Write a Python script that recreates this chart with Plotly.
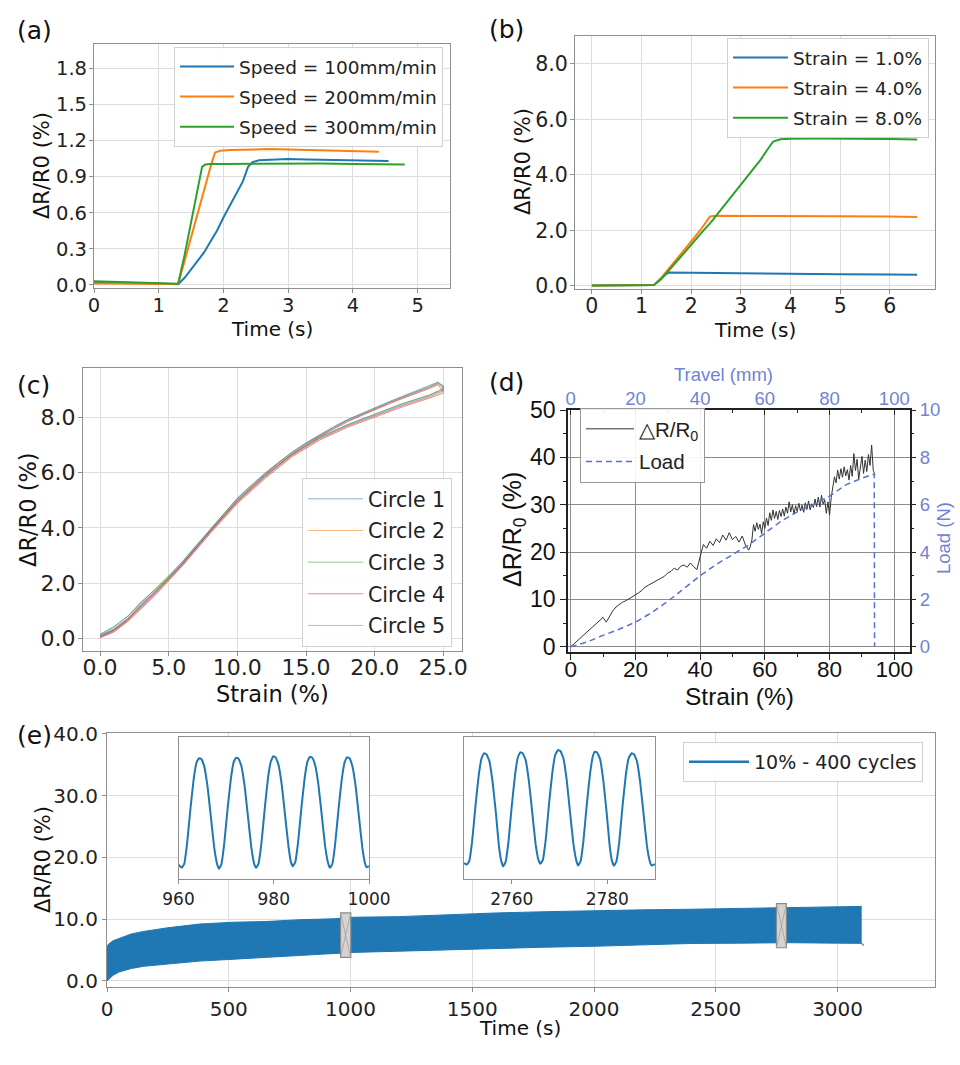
import plotly.graph_objects as go

W, H = 960, 1065

# ---------------- DATA ----------------
# (a) speed test
a_t_100 = [0, 0.2, 0.4, 0.6, 0.8, 1.0, 1.2, 1.3, 1.4, 1.5, 1.6, 1.7, 1.8, 1.9, 2.0, 2.1, 2.2, 2.3, 2.38, 2.45, 2.55, 2.7, 3.0, 3.3, 3.6, 3.9, 4.2, 4.55]
a_v_100 = [0.025, 0.022, 0.018, 0.016, 0.012, 0.008, 0.005, 0.006, 0.06, 0.13, 0.21, 0.27, 0.36, 0.45, 0.56, 0.66, 0.76, 0.86, 0.98, 1.02, 1.035, 1.04, 1.045, 1.042, 1.04, 1.038, 1.035, 1.03]
a_t_200 = [0, 0.3, 0.6, 0.9, 1.2, 1.3, 1.4, 1.5, 1.6, 1.7, 1.8, 1.87, 1.95, 2.1, 2.4, 2.7, 3.0, 3.4, 3.8, 4.1, 4.4]
a_v_200 = [0.012, 0.01, 0.009, 0.008, 0.006, 0.008, 0.2, 0.4, 0.6, 0.8, 0.98, 1.1, 1.115, 1.12, 1.125, 1.128, 1.125, 1.12, 1.115, 1.11, 1.105]
a_t_300 = [0, 0.3, 0.6, 0.9, 1.2, 1.3, 1.4, 1.5, 1.6, 1.67, 1.72, 1.8, 2.0, 2.5, 3.0, 3.5, 4.0, 4.5, 4.8]
a_v_300 = [0.03, 0.025, 0.02, 0.015, 0.008, 0.01, 0.25, 0.52, 0.8, 0.98, 1.0, 1.005, 1.005, 1.008, 1.01, 1.008, 1.005, 1.003, 1.0]
a_names = ["Speed = 100mm/min", "Speed = 200mm/min", "Speed = 300mm/min"]

# (b) strain levels
b_t_1 = [0, 0.5, 1.0, 1.25, 1.35, 1.45, 1.55, 2.0, 3.0, 4.0, 5.0, 6.0, 6.55]
b_v_1 = [0.02, 0.02, 0.02, 0.03, 0.2, 0.38, 0.48, 0.47, 0.45, 0.43, 0.42, 0.41, 0.40]
b_t_4 = [0, 0.5, 1.0, 1.25, 1.4, 1.6, 1.8, 2.0, 2.2, 2.38, 2.5, 3.0, 4.0, 5.0, 6.0, 6.55]
b_v_4 = [0.02, 0.02, 0.02, 0.03, 0.3, 0.72, 1.15, 1.6, 2.05, 2.5, 2.53, 2.53, 2.52, 2.51, 2.5, 2.48]
b_t_8 = [0, 0.5, 1.0, 1.25, 1.4, 1.6, 1.8, 2.0, 2.2, 2.4, 2.6, 2.8, 3.0, 3.2, 3.4, 3.55, 3.65, 3.8, 4.0, 4.5, 5.0, 5.5, 6.0, 6.55]
b_v_8 = [0.02, 0.02, 0.02, 0.03, 0.25, 0.65, 1.05, 1.48, 1.9, 2.3, 2.75, 3.2, 3.65, 4.1, 4.55, 4.95, 5.2, 5.28, 5.3, 5.31, 5.31, 5.3, 5.29, 5.27]
b_names = ["Strain = 1.0%", "Strain = 4.0%", "Strain = 8.0%"]

# (c) five loading/unloading circles
c_strain_up = [0, 1, 2, 3, 4, 5, 6, 7, 8, 9, 10, 11, 12, 13, 14, 15, 16, 17, 18, 19, 20, 21, 22, 23, 24, 24.6, 25]
c_strain_dn = [25, 24, 22, 20, 18, 16, 14, 12, 10, 8, 6, 4, 2, 1, 0]
c1_up = [0.15, 0.42, 0.80, 1.30, 1.78, 2.25, 2.78, 3.36, 3.95, 4.50, 5.08, 5.55, 5.98, 6.38, 6.75, 7.08, 7.38, 7.66, 7.92, 8.14, 8.36, 8.56, 8.76, 8.95, 9.14, 9.28, 9.12]
c1_dn = [9.02, 8.80, 8.48, 8.10, 7.72, 7.28, 6.68, 5.88, 4.98, 3.88, 2.72, 1.66, 0.70, 0.32, 0.10]
c2_up = [0.05, 0.30, 0.70, 1.22, 1.70, 2.18, 2.70, 3.30, 3.90, 4.46, 5.02, 5.48, 5.92, 6.34, 6.70, 7.03, 7.33, 7.60, 7.86, 8.08, 8.30, 8.50, 8.70, 8.88, 9.08, 9.22, 9.05]
c2_dn = [8.95, 8.74, 8.42, 8.05, 7.68, 7.22, 6.62, 5.82, 4.92, 3.82, 2.65, 1.58, 0.62, 0.25, 0.04]
c3_up = [0.12, 0.40, 0.78, 1.33, 1.75, 2.24, 2.76, 3.35, 3.94, 4.50, 5.06, 5.52, 5.96, 6.37, 6.74, 7.07, 7.37, 7.64, 7.90, 8.12, 8.34, 8.54, 8.74, 8.92, 9.12, 9.26, 9.15]
c3_dn = [9.05, 8.82, 8.50, 8.12, 7.74, 7.27, 6.66, 5.86, 4.96, 3.86, 2.70, 1.64, 0.67, 0.30, 0.08]
c4_up = [0.02, 0.28, 0.66, 1.20, 1.66, 2.15, 2.68, 3.28, 3.86, 4.42, 4.98, 5.45, 5.90, 6.30, 6.66, 7.00, 7.30, 7.57, 7.84, 8.06, 8.28, 8.48, 8.68, 8.86, 9.05, 9.18, 8.95]
c4_dn = [8.88, 8.70, 8.38, 8.02, 7.64, 7.18, 6.58, 5.78, 4.88, 3.78, 2.62, 1.55, 0.60, 0.22, 0.02]
c5_up = [0.08, 0.34, 0.72, 1.26, 1.72, 2.20, 2.73, 3.32, 3.92, 4.47, 5.04, 5.50, 5.94, 6.35, 6.72, 7.05, 7.35, 7.62, 7.88, 8.10, 8.32, 8.52, 8.72, 8.90, 9.10, 9.24, 9.08]
c5_dn = [8.98, 8.76, 8.44, 8.07, 7.69, 7.24, 6.64, 5.84, 4.94, 3.84, 2.67, 1.61, 0.64, 0.27, 0.05]
c_names = ["Circle 1", "Circle 2", "Circle 3", "Circle 4", "Circle 5"]

# (d) tensile to break
d_strain = [0, 1, 2, 3, 4, 5, 6, 7, 8, 9, 10, 11, 12, 13, 14, 15, 16, 17, 18, 19,
            20, 21, 22, 23, 24, 25, 26, 27, 28, 29, 30, 31, 32, 33, 34, 35, 36, 37, 38, 39,
            40, 41, 42, 43, 44, 45, 46, 47, 48, 49, 50, 51, 52, 53, 54, 55,
            55.5, 56.0, 56.5, 57.0, 57.5, 58.0, 58.5, 59.0, 59.5, 60.0, 60.5, 61.0, 61.5, 62.0,
            62.5, 63.0, 63.5, 64.0, 64.5, 65.0, 65.5, 66.0, 66.5, 67.0, 67.5, 68.0, 68.5, 69.0,
            69.5, 70.0, 70.5, 71.0, 71.5, 72.0, 72.5, 73.0, 73.5, 74.0, 74.5, 75.0, 75.5, 76.0,
            76.5, 77.0, 77.5, 78.0, 78.5, 79.0, 79.5, 80.0, 80.5, 81.0, 81.5, 82.0, 82.5, 83.0,
            83.5, 84.0, 84.5, 85.0, 85.5, 86.0, 86.5, 87.0, 87.5, 88.0, 88.5, 89.0, 89.5, 90.0,
            90.5, 91.0, 91.5, 92.0, 92.5, 93.0, 93.5, 94.0]
d_dr = [0.0, 0.6, 1.3, 1.9, 2.6, 3.2, 3.6, 4.2, 4.8, 5.4, 6.2, 5.2, 6.4, 7.6, 8.4, 9.0, 9.4, 9.7, 10.1, 10.6,
        10.9, 11.4, 11.9, 12.6, 13.0, 13.4, 13.7, 14.1, 14.6, 14.9, 15.6, 15.9, 16.6, 16.2, 17.0, 17.3, 16.8, 17.7, 16.9, 16.3,
        19.0, 21.6, 20.8, 22.3, 21.4, 22.8, 22.0, 23.6, 22.5, 24.1, 22.6, 23.3, 22.1, 23.4, 21.5, 20.4,
        21.2, 22.6, 25.8, 24.4, 26.2, 24.8, 25.9, 23.9, 26.4, 25.0, 27.2, 25.6, 28.3, 26.7,
        28.9, 27.1, 28.6, 26.9, 28.8, 27.5, 29.1, 27.6, 29.5, 28.2, 30.6, 28.5, 30.0, 28.0,
        29.8, 28.6, 30.3, 28.7, 29.9, 28.4, 30.4, 29.0, 30.8, 28.9, 30.2, 29.4, 31.2, 29.6,
        31.6, 29.5, 32.0, 30.1, 31.0, 28.2, 30.6, 27.8, 31.5, 33.8, 35.9, 34.6, 37.3, 35.4,
        37.6, 35.8, 38.0, 36.1, 37.4, 35.2, 38.3, 36.0, 40.8, 37.2, 39.6, 35.4, 38.2, 40.2,
        36.6, 39.4, 37.0, 40.6, 38.3, 42.6, 37.2, 36.4]
d_travel = [0, 5, 10, 15, 20, 25, 30, 35, 40, 45, 50, 55, 60, 65, 70, 75, 80, 85, 90, 93.8, 93.9]
d_load = [0, 0.2, 0.48, 0.74, 1.04, 1.44, 1.92, 2.48, 3.0, 3.48, 3.9, 4.3, 4.8, 5.3, 5.7, 6.0, 6.36, 6.84, 7.12, 7.3, 0.0]

# (e) 400-cycle test: envelope of the dense oscillation
e_t = [0, 5, 25, 50, 100, 150, 250, 380, 520, 650, 790, 930, 1010, 1200, 1400, 1600, 1800, 2000, 2200, 2400, 2600, 2800, 3000, 3099]
e_upper = [5.5, 5.9, 6.5, 6.9, 7.6, 8.0, 8.6, 9.2, 9.5, 9.6, 9.9, 10.05, 10.3, 10.4, 10.75, 11.0, 11.2, 11.4, 11.5, 11.6, 11.75, 11.9, 12.0, 12.06]
e_lower = [0.0, 0.2, 0.9, 1.44, 2.0, 2.35, 2.7, 3.2, 3.5, 3.8, 4.2, 4.44, 4.6, 4.8, 5.05, 5.25, 5.45, 5.6, 5.8, 6.05, 6.1, 6.18, 6.1, 6.07]
e_tail_t = [3099, 3107]
e_tail_v = [6.07, 5.7]
e_name = "10% - 400 cycles"
# zoom windows (time range, value range)
e_zoom1 = [959, 1001, 3.8, 11.0]
e_zoom2 = [2749, 2790, 5.36, 12.5]

ins1_t = [960.0,
          960.7, 961.2, 961.8, 962.5, 963.2, 963.8, 964.3, 964.8, 965.4, 966.1, 966.8, 967.5, 968.1,
          968.5, 969.0, 969.6, 970.3, 971.0, 971.6, 972.1, 972.6, 973.2, 973.9, 974.6, 975.3, 975.9,
          976.3, 976.8, 977.4, 978.1, 978.8, 979.4, 979.9, 980.4, 981.0, 981.7, 982.4, 983.1, 983.6,
          984.0, 984.5, 985.1, 985.8, 986.5, 987.1, 987.6, 988.1, 988.7, 989.4, 990.1, 990.8, 991.4,
          991.8, 992.3, 992.9, 993.6, 994.3, 994.9, 995.4, 995.9, 996.5, 997.2, 997.9, 998.6, 999.2,
          999.5, 1000.0]
ins1_v = [4.57,
          4.41, 4.60, 5.60, 7.30, 8.80, 9.60, 9.80, 9.76, 9.40, 8.40, 6.90, 5.40, 4.60,
          4.36, 4.58, 5.60, 7.30, 8.80, 9.62, 9.83, 9.78, 9.42, 8.40, 6.90, 5.40, 4.60,
          4.41, 4.62, 5.60, 7.30, 8.85, 9.65, 9.90, 9.84, 9.48, 8.45, 6.95, 5.45, 4.70,
          4.49, 4.68, 5.65, 7.35, 8.85, 9.65, 9.88, 9.82, 9.45, 8.45, 6.95, 5.45, 4.65,
          4.41, 4.60, 5.60, 7.30, 8.80, 9.62, 9.85, 9.80, 9.42, 8.42, 6.90, 5.40, 4.60,
          4.44, 4.50]
ins2_t = [2750.0,
          2750.6, 2751.1, 2751.7, 2752.4, 2753.1, 2753.7, 2754.2, 2754.7, 2755.3, 2756.0, 2756.7, 2757.3, 2757.8,
          2758.2, 2758.7, 2759.3, 2760.0, 2760.7, 2761.3, 2761.8, 2762.3, 2762.9, 2763.6, 2764.3, 2765.0, 2765.6,
          2766.0, 2766.5, 2767.1, 2767.8, 2768.5, 2769.1, 2769.7, 2770.2, 2770.8, 2771.5, 2772.2, 2772.9, 2773.5,
          2773.9, 2774.4, 2775.0, 2775.7, 2776.4, 2777.0, 2777.4, 2777.9, 2778.5, 2779.2, 2779.9, 2780.5, 2781.0,
          2781.4, 2781.9, 2782.5, 2783.2, 2783.9, 2784.5, 2785.1, 2785.6, 2786.2, 2786.9, 2787.6, 2788.3, 2788.9,
          2789.3, 2790.0]
ins2_v = [6.10,
          6.02, 6.20, 7.20, 9.00, 10.60, 11.45, 11.69, 11.64, 11.30, 10.20, 8.60, 7.00, 6.20,
          5.93, 6.15, 7.15, 9.00, 10.60, 11.50, 11.74, 11.68, 11.35, 10.25, 8.65, 7.05, 6.25,
          6.07, 6.25, 7.25, 9.10, 10.70, 11.60, 11.85, 11.80, 11.45, 10.35, 8.70, 7.10, 6.25,
          5.98, 6.18, 7.20, 9.05, 10.65, 11.55, 11.77, 11.72, 11.38, 10.25, 8.60, 7.00, 6.20,
          5.97, 6.17, 7.15, 9.00, 10.60, 11.45, 11.69, 11.64, 11.30, 10.20, 8.60, 7.00, 6.20,
          5.98, 6.05]

# ---------------- STYLE ----------------
BLUE, ORANGE, GREEN, RED, PURPLE = "#1f77b4", "#ff7f0e", "#2ca02c", "#d62728", "#9467bd"
MPL_FONT = "DejaVu Sans"
ORIGIN_FONT = "Liberation Sans, Arial, sans-serif"
FRAME = "#8f8f8f"
GRID = "#dddddd"
LBLUE = "#6f82d6"


def dx(p0, p1):
    return [p0 / W, p1 / W]


def dy(top, bottom):
    return [1 - bottom / H, 1 - top / H]


def mpl_axis(domain, anchor, rng, fsize, **kw):
    d = dict(domain=domain, anchor=anchor, range=rng, showline=True, mirror=True,
             linecolor=FRAME, linewidth=1.2, showgrid=True, gridcolor=GRID, gridwidth=1,
             zeroline=False, ticks="outside", ticklen=4, tickcolor=FRAME, automargin=False,
             tickfont=dict(family=MPL_FONT, size=fsize, color="#222"))
    d.update(kw)
    return d


fig = go.Figure()

# (a)
for t, v, c, n in zip([a_t_100, a_t_200, a_t_300], [a_v_100, a_v_200, a_v_300],
                      [BLUE, ORANGE, GREEN], a_names):
    fig.add_trace(go.Scatter(x=t, y=v, mode="lines", name=n, legendgroup=n, line=dict(color=c, width=2),
                             xaxis="x", yaxis="y", legend="legend"))
# (b)
for t, v, c, n in zip([b_t_1, b_t_4, b_t_8], [b_v_1, b_v_4, b_v_8],
                      [BLUE, ORANGE, GREEN], b_names):
    fig.add_trace(go.Scatter(x=t, y=v, mode="lines", name=n, legendgroup=n, line=dict(color=c, width=2),
                             xaxis="x2", yaxis="y2", legend="legend2"))
# (c)
for up, dn, c, n in zip([c1_up, c2_up, c3_up, c4_up, c5_up], [c1_dn, c2_dn, c3_dn, c4_dn, c5_dn],
                        [BLUE, ORANGE, GREEN, RED, PURPLE], c_names):
    fig.add_trace(go.Scatter(x=c_strain_up + c_strain_dn, y=up + dn, mode="lines", name=n, legendgroup=n,
                             line=dict(color=c, width=1.0), opacity=0.55,
                             xaxis="x3", yaxis="y3", legend="legend3"))
# (d)
fig.add_trace(go.Scatter(x=d_strain, y=d_dr, mode="lines", name="△R/R<sub>0</sub>", legendgroup="dr",
                         line=dict(color="#333333", width=1), xaxis="x4", yaxis="y4", legend="legend4"))
fig.add_trace(go.Scatter(x=d_travel, y=d_load, mode="lines", name="Load", legendgroup="load",
                         line=dict(color="#5a6fd0", width=1.5, dash="6px,4px"),
                         xaxis="x5", yaxis="y5", legend="legend4"))
# (e)
fig.add_trace(go.Scatter(x=e_t, y=e_upper, mode="lines", line=dict(color=BLUE, width=1),
                         showlegend=False, xaxis="x6", yaxis="y6", hoverinfo="skip"))
fig.add_trace(go.Scatter(x=e_t, y=e_lower, mode="lines", line=dict(color=BLUE, width=1),
                         fill="tonexty", fillcolor=BLUE, showlegend=False,
                         xaxis="x6", yaxis="y6", hoverinfo="skip"))
fig.add_trace(go.Scatter(x=e_tail_t, y=e_tail_v, mode="lines", line=dict(color=BLUE, width=1.2),
                         showlegend=False, xaxis="x6", yaxis="y6"))
fig.add_trace(go.Scatter(x=[None], y=[None], mode="lines", name=e_name,
                         line=dict(color=BLUE, width=2.5), xaxis="x6", yaxis="y6", legend="legend5"))
fig.add_trace(go.Scatter(x=ins1_t, y=ins1_v, mode="lines", line=dict(color=BLUE, width=2, shape="spline", smoothing=0.3),
                         showlegend=False, xaxis="x7", yaxis="y7"))
fig.add_trace(go.Scatter(x=ins2_t, y=ins2_v, mode="lines", line=dict(color=BLUE, width=2, shape="spline", smoothing=0.3),
                         showlegend=False, xaxis="x8", yaxis="y8"))

layout = dict(template="none", width=W, height=H, margin=dict(l=0, r=0, t=0, b=0, pad=0, autoexpand=False),
              paper_bgcolor="white", plot_bgcolor="white",
              font=dict(family=MPL_FONT, color="#222"))

# axes (a)
layout["xaxis"] = mpl_axis(dx(94, 450), "y", [0, 5.5], 19.5, dtick=1, tick0=0, ticklabelstandoff=-5)
layout["yaxis"] = mpl_axis(dy(44, 288), "x", [-0.025, 2.0], 19.5, dtick=0.3, tick0=0, tickformat=".1f",
                           ticklabelstandoff=-2)
# axes (b)
layout["xaxis2"] = mpl_axis(dx(575, 935), "y2", [-0.34, 6.91], 20.5, dtick=1, tick0=0, ticklabelstandoff=-6)
layout["yaxis2"] = mpl_axis(dy(36, 289), "x2", [-0.11, 9.0], 20.5, dtick=2, tick0=0, tickformat=".1f",
                            ticklabelstandoff=-2)
# axes (c)
layout["xaxis3"] = mpl_axis(dx(83, 462), "y3", [-1.24, 26.36], 22, dtick=5, tick0=0, tickformat=".1f",
                            ticklabelstandoff=-8)
layout["yaxis3"] = mpl_axis(dy(368, 651), "x3", [-0.46, 9.79], 22, dtick=2, tick0=0, tickformat=".1f",
                            ticklabelstandoff=-2)
# axes (d)
d_common = dict(showline=True, mirror=True, linecolor="#222", linewidth=1.5, showgrid=True,
                gridcolor="#8c8c8c", gridwidth=1, zeroline=False, automargin=False)
layout["xaxis4"] = dict(domain=dx(568, 910), anchor="y4", range=[-0.83, 104.85], dtick=20, tick0=0,
                        ticks="outside", ticklen=6, tickcolor="#222", ticklabelstandoff=-10,
                        minor=dict(dtick=10, tick0=0, ticks="outside", ticklen=3, tickcolor="#222", showgrid=False),
                        tickfont=dict(family=ORIGIN_FONT, size=22.5, color="#111"), **d_common)
layout["yaxis4"] = dict(domain=dy(410, 652), anchor="x4", range=[-1.1, 50], dtick=10, tick0=0,
                        ticks="outside", ticklen=6, tickcolor="#222",
                        minor=dict(dtick=5, tick0=0, ticks="outside", ticklen=3, tickcolor="#222", showgrid=False),
                        tickfont=dict(family=ORIGIN_FONT, size=23, color="#111"), **d_common)
layout["xaxis5"] = dict(overlaying="x4", side="top", anchor="y5", range=[-0.83, 104.85], dtick=20, tick0=0,
                        showline=False, showgrid=False, zeroline=False, ticks="inside", ticklen=5, tickcolor="#222",
                        automargin=False,
                        minor=dict(dtick=10, tick0=0, ticks="inside", ticklen=3, tickcolor="#222"),
                        tickfont=dict(family=ORIGIN_FONT, size=18.5, color=LBLUE))
layout["yaxis5"] = dict(overlaying="y4", side="right", anchor="x5", range=[-0.22, 10], dtick=2, tick0=0,
                        showline=False, showgrid=False, zeroline=False, ticks="outside", ticklen=5, tickcolor="#222",
                        automargin=False,
                        minor=dict(dtick=1, tick0=0, ticks="outside", ticklen=3, tickcolor="#222"),
                        tickfont=dict(family=ORIGIN_FONT, size=18.5, color=LBLUE))
# axes (e)
layout["xaxis6"] = mpl_axis(dx(107, 935), "y6", [0, 3400], 20, dtick=500, tick0=0)
layout["yaxis6"] = mpl_axis(dy(733, 987), "x6", [-1.0, 40.15], 20, dtick=10, tick0=0, tickformat=".1f")
layout["xaxis7"] = mpl_axis(dx(178.5, 369), "y7", [960, 1000], 17, tickvals=[960, 980, 1000], showgrid=False)
layout["yaxis7"] = mpl_axis(dy(736.7, 879), "x7", [3.86, 10.86], 17, showticklabels=False, ticks="", showgrid=False)
layout["xaxis8"] = mpl_axis(dx(464, 655), "y8", [2750, 2790], 17, tickvals=[2760, 2780], showgrid=False)
layout["yaxis8"] = mpl_axis(dy(736.7, 879), "x8", [5.29, 12.53], 17, showticklabels=False, ticks="", showgrid=False)


def leg(left, top, fsize, iw, gap=0, family=MPL_FONT, border="#d0d0d0"):
    return dict(x=left / W, y=1 - top / H, xanchor="left", yanchor="top", bgcolor="rgba(255,255,255,0.9)",
                bordercolor=border, borderwidth=1, itemwidth=iw,
                traceorder="grouped" if gap else "normal", tracegroupgap=gap,
                font=dict(family=family, size=fsize, color="#222"))


layout["legend"] = leg(174, 47, 18.5, 54, gap=3)
layout["legend2"] = leg(727, 38, 18.5, 55, gap=3)
layout["legend3"] = leg(302, 478, 20.5, 55, gap=2)
layout["legend4"] = leg(580, 408, 20.5, 48, gap=3, family=ORIGIN_FONT, border="#999999")
layout["legend5"] = leg(683, 742, 19, 60)

# indicator boxes in (e)
shapes = []
for z in [e_zoom1, e_zoom2]:
    shapes.append(dict(type="rect", xref="x6", yref="y6", x0=z[0], x1=z[1], y0=z[2], y1=z[3],
                       fillcolor="#d3d3d3", line=dict(color="#8a8a8a", width=1.2)))
    shapes.append(dict(type="line", xref="x6", yref="y6", x0=z[0], x1=z[1], y0=z[3], y1=z[2],
                       line=dict(color="#a0a0a0", width=0.8)))
    shapes.append(dict(type="line", xref="x6", yref="y6", x0=z[0], x1=z[1], y0=z[2], y1=z[3],
                       line=dict(color="#a0a0a0", width=0.8)))
layout["shapes"] = shapes


def ann(text, x, y, size, family=MPL_FONT, angle=0, color="#111"):
    return dict(text=text, x=x / W, y=1 - y / H, xref="paper", yref="paper", showarrow=False,
                xanchor="center", yanchor="middle", textangle=angle,
                font=dict(family=family, size=size, color=color))


anns = [
    ann("(a)", 34, 31, 25), ann("(b)", 506, 30, 25), ann("(c)", 33, 385, 25),
    ann("(d)", 506, 382, 25), ann("(e)", 34, 735, 25),
    ann("ΔR/R0 (%)", 42, 166, 21, angle=-90), ann("Time (s)", 272, 329, 20),
    ann("ΔR/R0 (%)", 523, 162, 21, angle=-90), ann("Time (s)", 755, 330, 20),
    ann("ΔR/R0 (%)", 28, 510, 22.5, angle=-90), ann("Strain (%)", 272, 694, 22.5),
    ann("ΔR/R<sub>0</sub> (%)", 514, 530, 25, family=ORIGIN_FONT, angle=-90),
    ann("Strain (%)", 739, 696, 24.5, family=ORIGIN_FONT),
    ann("Travel (mm)", 723, 374, 18.5, family=ORIGIN_FONT, color=LBLUE),
    ann("Load (N)", 943, 538, 18.5, family=ORIGIN_FONT, angle=-90, color=LBLUE),
    ann("ΔR/R0 (%)", 43, 860, 21, angle=-90), ann("Time (s)", 520, 1028, 20),
]
layout["annotations"] = anns

fig.update_layout(**layout)
fig.write_html("out.html", config={"displayModeBar": False},
               post_script="document.body.style.margin='0px';")
